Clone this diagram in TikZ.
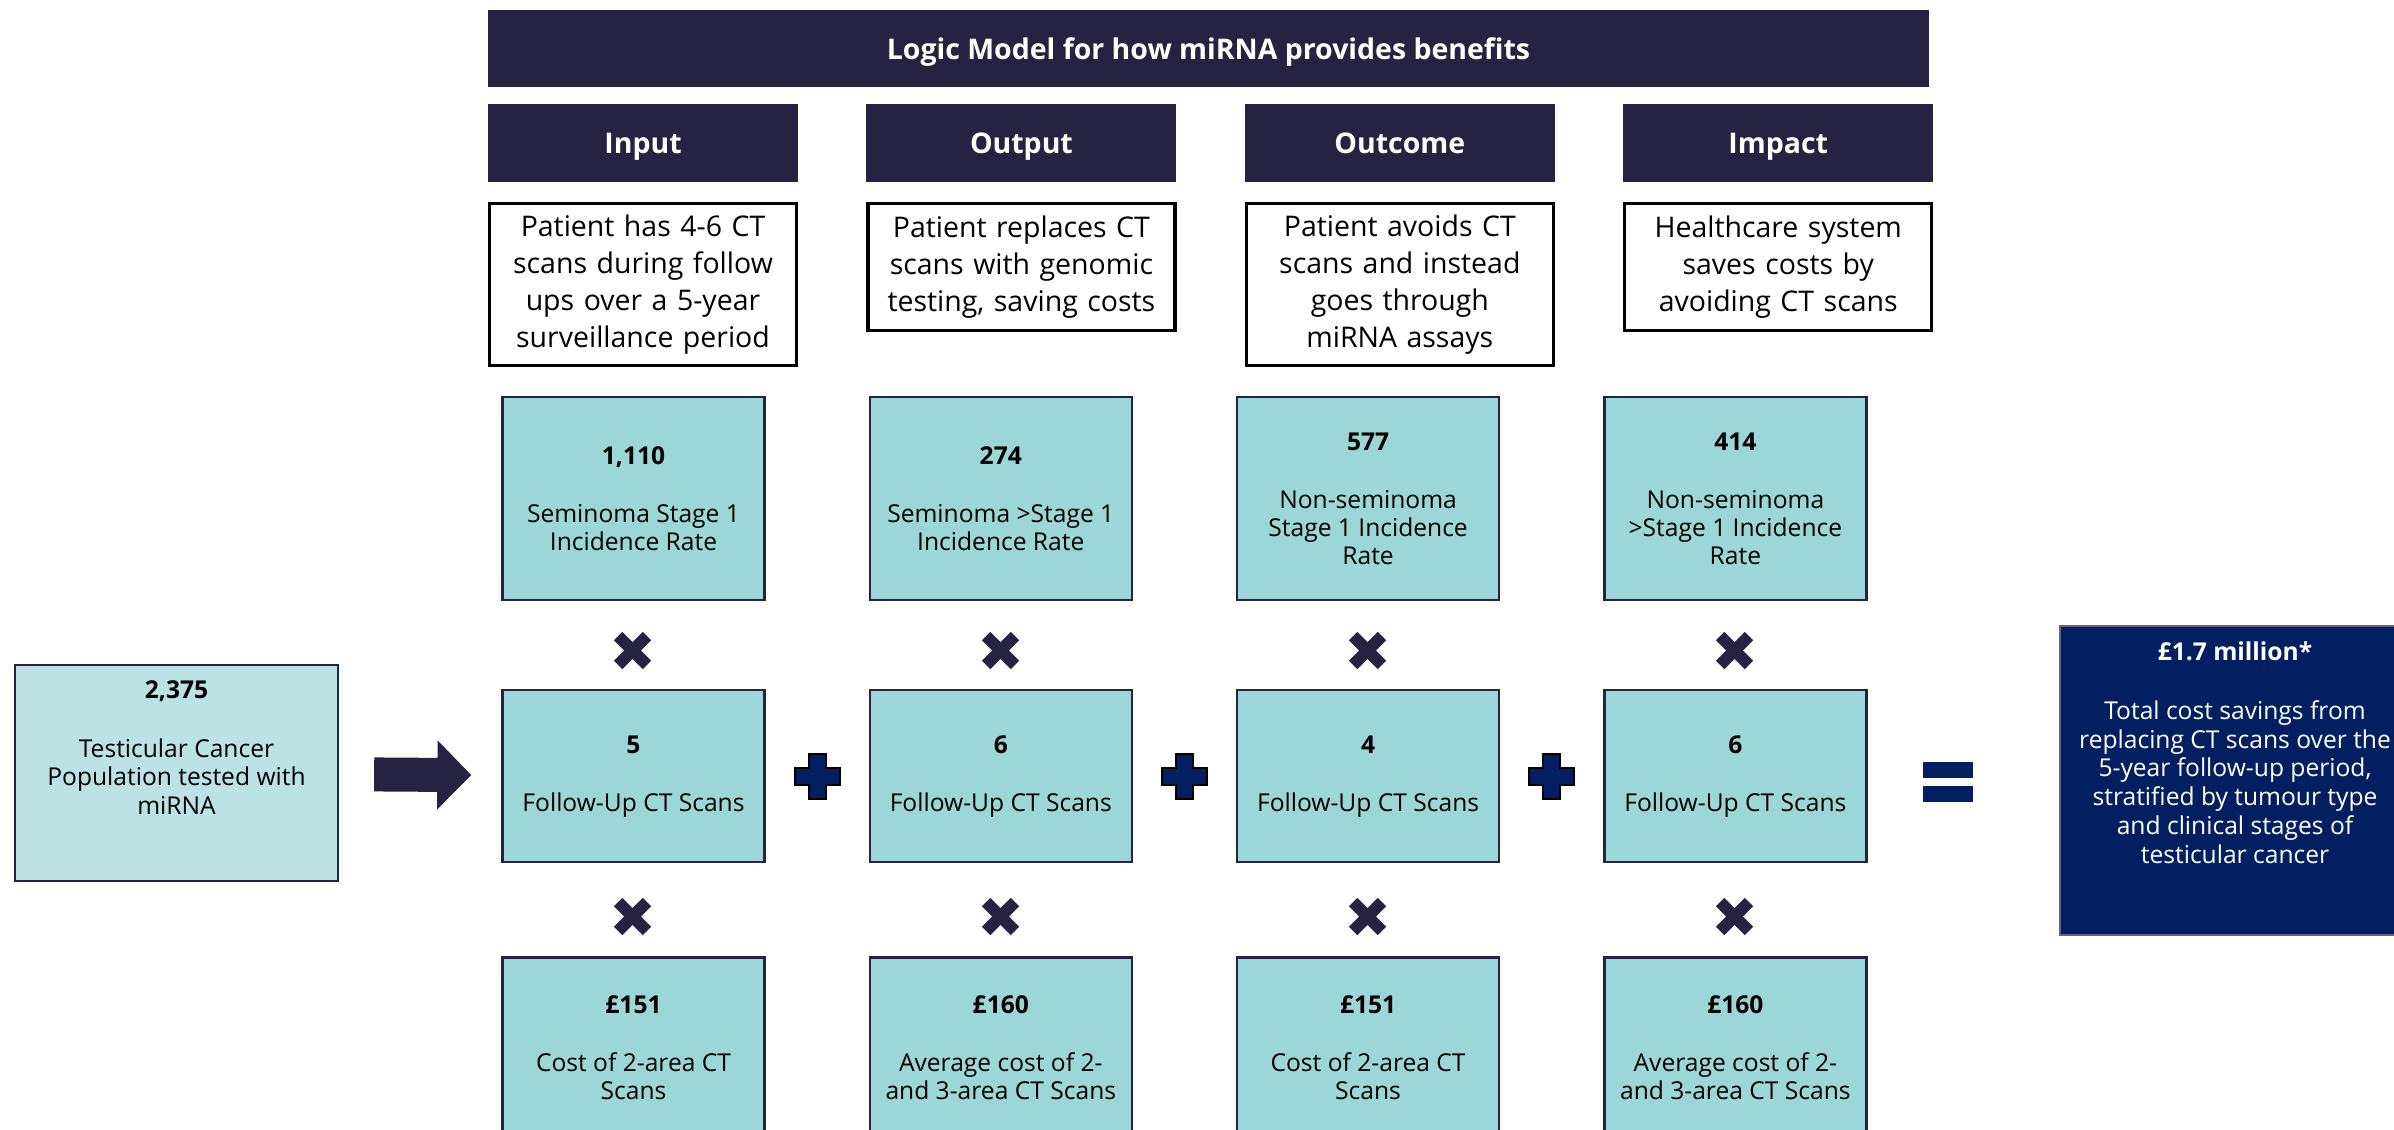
\documentclass[tikz,border=0pt]{standalone}
\usepackage{fontspec}
\setmainfont{Open Sans}
\newfontfamily\dingfont{DejaVu Sans}
\usetikzlibrary{positioning,calc,arrows.meta}

\definecolor{ink}{HTML}{252341}
\definecolor{deepblue}{HTML}{022061}
\definecolor{cellfill}{HTML}{9DD6D9}
\definecolor{popfill}{HTML}{BCE2E5}

\begin{document}
\begin{tikzpicture}[node distance={10.3mm},
  bar/.style = {fill=ink, text=white, inner sep=0pt, text height=0.72em, text depth=0.1em, font=\bfseries\fontsize{8.1}{10}\selectfont},
  head/.style = {bar, minimum width=3.10cm, minimum height=0.78cm},
  note/.style = {draw=black, line width=0.9pt, align=center, inner sep=0pt, text width=3.07cm, font=\fontsize{8.1}{10.5}\selectfont},
  cell/.style = {draw=ink, line width=0.65pt, fill=cellfill, align=center, inner sep=0pt, minimum width=2.62cm, font=\fontsize{7}{8}\selectfont},
  rate/.style = {cell, minimum height=2.03cm},
  scans/.style = {cell, minimum height=1.72cm},
  cost/.style = {cell, minimum height=1.80cm},
  pop/.style = {cell, fill=popfill, minimum width=3.23cm, minimum height=2.16cm},
  total/.style = {fill=deepblue, draw=ink!70, line width=0.5pt, minimum width=3.50cm, minimum height=3.09cm},
  inset/.style = {anchor=north, align=center, inner sep=0pt, font=\fontsize{7}{8.2}\selectfont},
  times/.style = {text=ink, inner sep=0pt, font=\dingfont\fontsize{16}{16}\selectfont},
  push/.style = {ink, line width=0.34cm, -{Triangle[length=0.34cm, width=0.67cm]}, shorten <=0.35cm, shorten >=0.30cm},
  plussign/.pic = {\filldraw[fill=deepblue, draw=black, line width=0.6pt]
    (-0.085,0.225) -- (0.085,0.225) -- (0.085,0.085) -- (0.225,0.085) -- (0.225,-0.085) -- (0.085,-0.085)
    -- (0.085,-0.225) -- (-0.085,-0.225) -- (-0.085,-0.085) -- (-0.225,-0.085) -- (-0.225,0.085) -- (-0.085,0.085) -- cycle;},
  equalsign/.pic = {\fill[deepblue] (-0.25,0.04) rectangle (0.25,0.20);
    \fill[deepblue] (-0.25,-0.04) rectangle (0.25,-0.20);}
  ]
\useasboundingbox (0,0) rectangle (23.94,-11.29);
\clip (0,0) rectangle (23.94,-11.29);
\fill[white] (0,0) rectangle (23.94,-11.29);

% heading and the four stages
\node[bar, minimum width=14.41cm, minimum height=0.77cm] (title) at (12.085,-0.485) {Logic Model for how miRNA provides benefits};
\node[head] (hin) at (6.43,-1.43) {Input};
\node[head] (hout) [right=6.7mm of hin] {Output};
\node[head] (hoc) [right=6.7mm of hout] {Outcome};
\node[head] (him) [right=6.7mm of hoc] {Impact};

\node[note, minimum height=1.62cm] (nin) [below=1.9mm of hin] {Patient has 4-6 CT\\scans during follow\\ups over a 5-year\\surveillance period};
\node[note, minimum height=1.27cm] (nout) [below=1.9mm of hout] {Patient replaces CT\\scans with genomic\\testing, saving costs};
\node[note, minimum height=1.62cm] (noc) [below=1.9mm of hoc] {Patient avoids CT\\scans and instead\\goes through\\miRNA assays};
\node[note, minimum height=1.27cm] (nim) [below=1.9mm of him] {Healthcare system\\saves costs by\\avoiding CT scans};

% incidence
\node[rate] (r3a) at (6.335,-4.985) {\textbf{1,110}\\[8.5pt]Seminoma Stage 1\\Incidence Rate};
\node[rate] (r3b) [right=of r3a] {\textbf{274}\\[8.5pt]Seminoma >Stage 1\\Incidence Rate};
\node[rate] (r3c) [right=of r3b] {\textbf{577}\\[8.5pt]Non-seminoma\\Stage 1 Incidence\\Rate};
\node[rate] (r3d) [right=of r3c] {\textbf{414}\\[8.5pt]Non-seminoma\\>Stage 1 Incidence\\Rate};

% follow-up scans
\node[scans] (r4a) [below=8.8mm of r3a] {\textbf{5}\\[8.5pt]Follow-Up CT Scans};
\node[scans] (r4b) [below=8.8mm of r3b] {\textbf{6}\\[8.5pt]Follow-Up CT Scans};
\node[scans] (r4c) [below=8.8mm of r3c] {\textbf{4}\\[8.5pt]Follow-Up CT Scans};
\node[scans] (r4d) [below=8.8mm of r3d] {\textbf{6}\\[8.5pt]Follow-Up CT Scans};

% unit costs
\node[cost] (r5a) [below=9.3mm of r4a] {\textbf{£151}\\[8.5pt]Cost of 2-area CT\\Scans};
\node[cost] (r5b) [below=9.3mm of r4b] {\textbf{£160}\\[8.5pt]Average cost of 2-\\and 3-area CT Scans};
\node[cost] (r5c) [below=9.3mm of r4c] {\textbf{£151}\\[8.5pt]Cost of 2-area CT\\Scans};
\node[cost] (r5d) [below=9.3mm of r4d] {\textbf{£160}\\[8.5pt]Average cost of 2-\\and 3-area CT Scans};

\node[times] (xa) at ($(r3a.south)!0.58!(r4a.north)$) {✖};
\node[times] (xb) at ($(r3b.south)!0.58!(r4b.north)$) {✖};
\node[times] (xc) at ($(r3c.south)!0.58!(r4c.north)$) {✖};
\node[times] (xd) at ($(r3d.south)!0.58!(r4d.north)$) {✖};
\node[times] (ya) at ($(r4a.south)!0.58!(r5a.north)$) {✖};
\node[times] (yb) at ($(r4b.south)!0.58!(r5b.north)$) {✖};
\node[times] (yc) at ($(r4c.south)!0.58!(r5c.north)$) {✖};
\node[times] (yd) at ($(r4d.south)!0.58!(r5d.north)$) {✖};

\pic at ($(r4a.east)!0.5!(r4b.west)$) {plussign};
\pic at ($(r4b.east)!0.5!(r4c.west)$) {plussign};
\pic at ($(r4c.east)!0.5!(r4d.west)$) {plussign};

% population in, savings out
\node[pop] (pop) at (1.765,-7.73) {};
\node[inset] (poplabel) at ([yshift=-0.16cm]pop.north) {\textbf{2,375}\\[8.5pt]Testicular Cancer\\Population tested with\\miRNA};
\draw[push] (pop) -- (r4a);

\pic at (19.48,-7.82) {equalsign};
\node[total] (res) at (22.35,-7.805) {};
\node[inset, text=white] (reslabel) at ([yshift=-0.16cm]res.north) {\textbf{£1.7 million*}\\[8.5pt]Total cost savings from\\replacing CT scans over the\\5-year follow-up period,\\stratified by tumour type\\and clinical stages of\\testicular cancer};
\end{tikzpicture}
\end{document}
